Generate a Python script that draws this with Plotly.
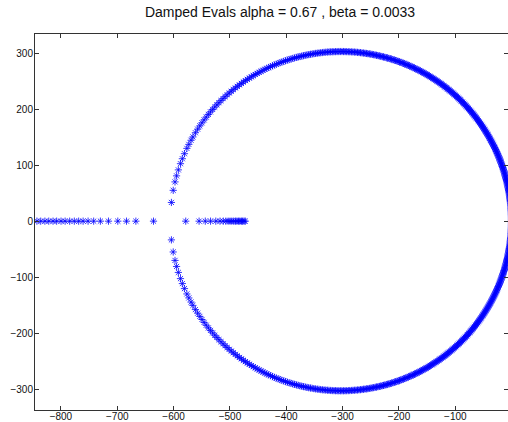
import numpy as np
import plotly.graph_objects as go

# Damping parameters (from the title)
alpha = 0.67
beta = 0.0033

# Undamped natural frequencies (|lambda| of each eigenvalue)
omega_overdamped = [606.4, 608.3, 609.7, 611.2, 613.0, 614.7, 616.2, 617.5, 618.7, 619.8,
                    620.9, 622.1, 623.3, 624.4, 625.6, 626.6, 627.8, 628.9, 630.1, 631.2]

omega_underdamped = [604.8, 603.2, 601.6, 600.2, 598.6, 596.7, 595.0, 593.1, 590.9, 589.1,
                     587.1, 585.4, 583.1,
                     581, 579, 577, 575, 573, 571, 569, 567, 565, 563, 561, 559, 557, 555, 553, 551, 549, 547, 545, 543,
                     541, 539, 537, 535, 533, 531, 529, 527, 525, 523, 521, 519, 517, 515, 513, 511, 509, 507, 505, 503,
                     501, 499, 497, 495, 493, 491, 489, 487, 485, 483, 481, 479, 477, 475, 473, 471, 469, 467, 465, 463,
                     461, 459, 457, 455, 453, 451, 449, 447, 445, 443, 441, 439, 437, 435, 433, 431, 429, 427, 425, 423,
                     421, 419, 417, 415, 413, 411, 409, 407, 405, 403, 401, 399, 397, 395, 393, 391, 389, 387, 385, 383,
                     381, 379, 377, 375, 373, 371, 369, 367, 365, 363, 361, 359, 357, 355, 353, 351, 349, 347, 345, 343,
                     341, 339, 337, 335, 333, 331, 329, 327, 325, 323, 321, 319, 317, 315, 313, 311, 309, 307, 305, 303,
                     301, 299, 297, 295, 293, 291, 289, 287, 285, 283, 281, 279, 277, 275, 273, 271, 269, 267, 265, 263,
                     261, 259, 257, 255, 253, 251, 249, 247, 245, 243, 241, 239, 237, 235, 233, 231, 229, 227, 225, 223,
                     221, 219, 217, 215, 213, 211, 209, 207, 205, 203, 201, 199, 197, 195, 193, 191, 189, 187, 185, 183,
                     181, 179, 177, 175, 173, 171, 169, 167, 165, 163, 161, 159, 157, 155, 153, 151, 149, 147, 145, 143,
                     141, 139, 137, 135, 133, 131, 129, 127, 125, 123, 121, 119, 117, 115, 113, 111, 109, 107, 105, 103,
                     101, 99, 97, 95, 93, 91, 89, 87, 85, 83, 81, 79, 77, 75, 73, 71, 69, 67, 65, 63,
                     61, 59, 57, 55, 53, 51, 49, 47, 45, 43, 41, 39, 37, 35, 33, 31, 29, 27, 25, 23,
                     21, 19, 17, 15, 13, 11, 9, 7, 5, 3, 1]

x_ticks = [-800, -700, -600, -500, -400, -300, -200, -100]
y_ticks = [-300, -200, -100, 0, 100, 200, 300]
title_text = "Damped Evals alpha = 0.67 , beta = 0.0033"

# Eigenvalues of  lambda^2 + (alpha + beta*w^2) lambda + w^2 = 0
re_vals, im_vals = [], []
for w in omega_overdamped + omega_underdamped:
    s = alpha + beta * w * w
    disc = s * s - 4 * w * w
    if disc >= 0:
        r = np.sqrt(disc)
        re_vals += [(-s + r) / 2, (-s - r) / 2]
        im_vals += [0.0, 0.0]
    else:
        q = np.sqrt(-disc) / 2
        re_vals += [-s / 2, -s / 2]
        im_vals += [q, -q]

fig = go.Figure()
fig.add_trace(go.Scatter(
    x=re_vals, y=im_vals, mode="markers",
    marker=dict(symbol="asterisk-open", size=6, color="blue",
                line=dict(color="blue", width=0.8)),
    cliponaxis=True, showlegend=False,
))

axis_common = dict(
    showline=True, linecolor="#333", linewidth=1, mirror="ticks",
    ticks="inside", ticklen=4, tickcolor="#333",
    showgrid=False, zeroline=False, automargin=False,
    tickfont=dict(family="Liberation Sans, Arial", size=10, color="#111"),
)

fig.update_layout(
    width=508, height=422,
    margin=dict(l=35, r=0, t=34, b=12, autoexpand=False),
    paper_bgcolor="white", plot_bgcolor="white",
    title=dict(text=title_text, x=0.518, xref="paper", xanchor="center",
               y=0.972, yref="container", yanchor="middle", automargin=False,
               font=dict(family="Liberation Sans, Arial", size=14, color="#111")),
    xaxis=dict(range=[-846, -6.5], tickvals=x_ticks, ticklabelstandoff=-3, **axis_common),
    yaxis=dict(range=[-337, 334], tickvals=y_ticks, ticklabelstandoff=-1, **axis_common),
)

fig.write_html("out.html",
               config={"displayModeBar": False},
               post_script="document.body.style.margin='0';document.body.style.overflow='hidden';")
